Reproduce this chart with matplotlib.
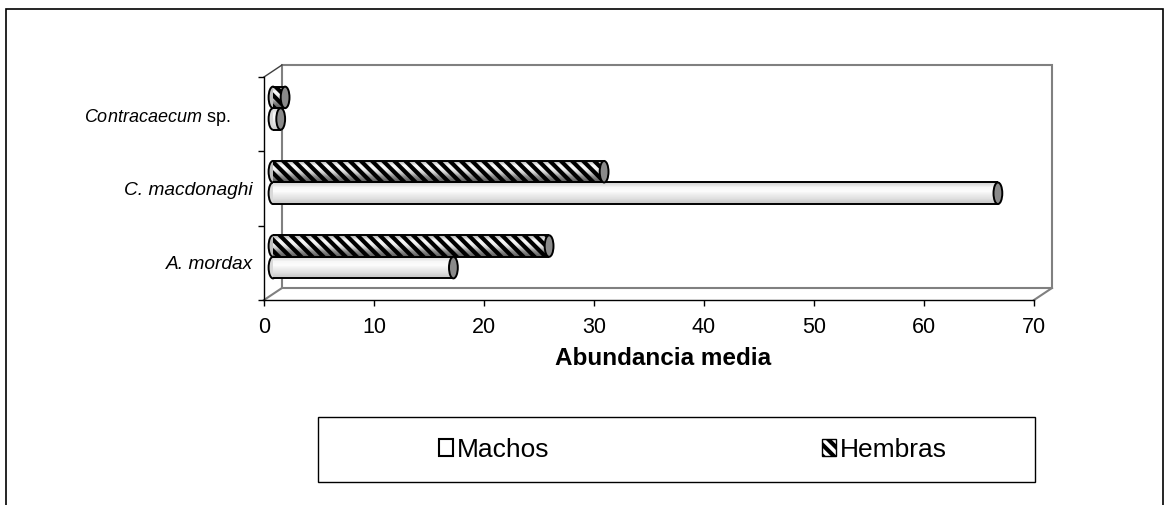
import numpy as np
import matplotlib.pyplot as plt
import matplotlib.transforms as mtransforms
from matplotlib.patches import Ellipse, Rectangle, Patch

plt.rcParams['font.family'] = ['Liberation Sans', 'DejaVu Sans']
plt.rcParams['mathtext.fontset'] = 'custom'
plt.rcParams['mathtext.it'] = 'Liberation Sans:italic'
plt.rcParams['mathtext.rm'] = 'Liberation Sans'
plt.rcParams['hatch.linewidth'] = 3.0

# datos: abundancia media por sexo
especies = [r'A. mordax', r'C. macdonaghi', r'$\mathit{Contracaecum}$ sp.']
machos = [16.4, 65.9, 0.7]
hembras = [25.1, 30.1, 1.1]
ticks_x = [0, 10, 20, 30, 40, 50, 60, 70]

W, H = 1166, 505
fig = plt.figure(figsize=(W / 100, H / 100), dpi=100)
ax = fig.add_axes([264 / W, 1 - 300 / H, 770 / W, 223 / H])
ax.set_xlim(0, 70)
ax.set_ylim(-0.5, 2.5)

# desplazamiento de profundidad (pseudo 3D)
DX, DY = 18, 12
tr_bar = mtransforms.offset_copy(ax.transData, fig=fig, x=DX / 2, y=DY / 2, units='dots')
tr_wall = mtransforms.offset_copy(ax.transAxes, fig=fig, x=DX, y=DY, units='dots')

gris = '#808080'
ax.add_patch(Rectangle((0, 0), 1, 1, transform=tr_wall, fill=False,
                       edgecolor=gris, lw=1.5, clip_on=False, zorder=1))
ddx, ddy = DX / 770, DY / 223
ax.plot([0, ddx], [0, ddy], transform=ax.transAxes, color=gris, lw=1.5, clip_on=False, zorder=1)
ax.plot([1, 1 + ddx], [0, ddy], transform=ax.transAxes, color=gris, lw=1.5, clip_on=False, zorder=1)
ax.plot([0, ddx], [1, 1 + ddy], transform=ax.transAxes, color='#404040', lw=1.0, clip_on=False, zorder=1)

alto = 0.29
cap_w = 0.8

def cilindro(y, valor, grad, hatch=None):
    izq = Ellipse((0, y), cap_w, alto, transform=tr_bar, facecolor=grad[0],
                  edgecolor='black', lw=1.4, zorder=2, clip_on=False)
    ax.add_patch(izq)
    cont = ax.barh(y, valor, height=alto, color='none', edgecolor='black', lw=0,
                   hatch=hatch, transform=tr_bar, zorder=4, clip_on=False)
    barra = cont[0]
    g = np.array(grad).reshape(-1, 1, 3)
    im = ax.imshow(g, extent=[0, valor, y - alto / 2, y + alto / 2], origin='upper',
                   aspect='auto', interpolation='bilinear', transform=tr_bar, zorder=3)
    im.set_clip_path(barra)
    ax.hlines([y - alto / 2, y + alto / 2], 0, valor, colors='black', lw=1.4,
              transform=tr_bar, zorder=5, clip_on=False)
    ax.add_patch(Ellipse((valor, y), cap_w, alto, transform=tr_bar, facecolor='#8a8a8a',
                         edgecolor='black', lw=1.4, zorder=6, clip_on=False))

grad_m = [(0.85, 0.85, 0.85), (0.97, 0.97, 0.97), (0.99, 0.99, 0.99), (0.93, 0.93, 0.93),
          (0.88, 0.88, 0.88), (0.80, 0.80, 0.80)]
grad_h = [(0.75, 0.75, 0.75), (0.98, 0.98, 0.98), (0.95, 0.95, 0.95), (0.8, 0.8, 0.8),
          (0.55, 0.55, 0.55), (0.4, 0.4, 0.4)]

pos = np.arange(len(especies))
for i in pos:
    cilindro(i - alto / 2, machos[i], grad_m)
    cilindro(i + alto / 2, hembras[i], grad_h, hatch='\\\\\\')

ax.set_xlim(0, 70)
ax.set_ylim(-0.5, 2.5)

for s in ['top', 'right']:
    ax.spines[s].set_visible(False)
for s in ['left', 'bottom']:
    ax.spines[s].set_color('black')
    ax.spines[s].set_linewidth(1.0)

ax.set_xticks(ticks_x)
ax.set_xticklabels([str(t) for t in ticks_x], fontsize=15.5)
ax.tick_params(axis='x', direction='out', length=4, width=1, pad=8)

ax.set_yticks(pos)
ax.set_yticklabels(especies, fontsize=13.8)
ax.set_yticks([-0.5, 0.5, 1.5, 2.5], minor=True)
ax.tick_params(axis='y', which='major', length=0, pad=8)
ax.tick_params(axis='y', which='minor', direction='out', length=4, width=1)
etqs = ax.get_yticklabels()
etqs[0].set_fontstyle('italic')
etqs[1].set_fontstyle('italic')
etqs[2].set_fontsize(13)
etqs[2].set_transform(etqs[2].get_transform() +
                      mtransforms.ScaledTranslation(-23 / 100, 0, fig.dpi_scale_trans))

ax.set_xlabel('Abundancia media', fontsize=17.5, fontweight='bold')
ax.xaxis.set_label_coords(0.518, -0.21)

# leyenda
fig.add_artist(Rectangle((318 / W, 1 - 482 / H), 717 / W, 65 / H, transform=fig.transFigure,
                         fill=False, edgecolor='black', lw=1.0))
handles = [Patch(facecolor='white', edgecolor='black', lw=1.5, label='Machos'),
           Patch(facecolor='white', edgecolor='black', lw=1.0, hatch='\\\\\\', label='Hembras')]
fig.legend(handles=handles, loc='center', bbox_to_anchor=(693 / W, 1 - 450 / H),
           ncol=2, frameon=False, fontsize=19, handlelength=0.55, handleheight=0.6,
           handletextpad=0.15, columnspacing=10.3)

# marco exterior
fig.add_artist(Rectangle((6 / W, -0.1), 1157 / W, 1.1 - 9 / H, transform=fig.transFigure,
                         fill=False, edgecolor='black', lw=1.2))

fig.savefig('out.png', dpi=100)
